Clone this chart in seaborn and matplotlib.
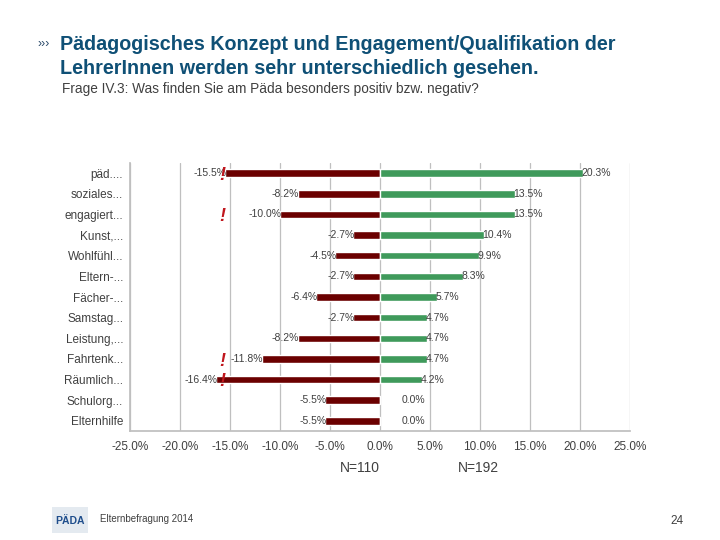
import matplotlib
matplotlib.use("Agg")
import matplotlib.pyplot as plt
import seaborn as sns
import pandas as pd
from matplotlib.patches import Rectangle

categories = ["päd....", "soziales...", "engagiert...", "Kunst,...", "Wohlfühl...",
              "Eltern-...", "Fächer-...", "Samstag...", "Leistung,...", "Fahrtenk...",
              "Räumlich...", "Schulorg...", "Elternhilfe"]
negative = [-15.5, -8.2, -10.0, -2.7, -4.5, -2.7, -6.4, -2.7, -8.2, -11.8, -16.4, -5.5, -5.5]
positive = [20.3, 13.5, 13.5, 10.4, 9.9, 8.3, 5.7, 4.7, 4.7, 4.7, 4.2, 0.0, 0.0]
flagged = ["päd....", "engagiert...", "Fahrtenk...", "Räumlich..."]
xticks = [-25, -20, -15, -10, -5, 0, 5, 10, 15, 20, 25]
n_labels = ["N=110", "N=192"]

sns.set_theme(style="white")
plt.rcParams['font.family'] = ['Liberation Sans', 'DejaVu Sans']

df = pd.DataFrame({"cat": categories, "neg": negative, "pos": positive})

fig = plt.figure(figsize=(7.2, 5.4), dpi=100)
ax = fig.add_axes([130/720, 1-431.3/540, 500/720, 268.6/540])

RED = "#6B0000"
GREEN = "#3F9A5B"
sns.barplot(data=df, x="neg", y="cat", order=categories, color=RED, width=0.37,
            saturation=1, orient="h", ax=ax, zorder=3)
sns.barplot(data=df, x="pos", y="cat", order=categories, color=GREEN, width=0.37,
            saturation=1, orient="h", ax=ax, zorder=3)

ax.set_xlim(-25, 25)
ax.set_ylim(12.5, -0.5)
ax.set_xticks(xticks)
ax.set_xticklabels([f"{t:.1f}%" for t in xticks], fontsize=8.5, color="#404040")
ax.tick_params(axis="x", length=0, pad=7)
ax.tick_params(axis="y", length=0, pad=5)
ax.set_yticklabels(categories, fontsize=8.5, color="#404040")
ax.set_xlabel("")
ax.set_ylabel("")
ax.grid(axis="x", color="#BFBFBF", linewidth=0.9, zorder=0)
ax.set_axisbelow(True)
for s in ["top", "right"]:
    ax.spines[s].set_visible(False)
ax.spines["left"].set_color("#BFBFBF")
ax.spines["bottom"].set_color("#BFBFBF")

for i, (n, p) in enumerate(zip(negative, positive)):
    ax.annotate(f"{n:.1f}%", (n, i), xytext=(1, 0), textcoords="offset points",
                ha="right", va="center", fontsize=7.5, color="#404040", zorder=4)
    ax.annotate(f"{p:.1f}%", (max(p, 2.3), i), xytext=(-1, 0), textcoords="offset points",
                ha="left", va="center", fontsize=7.5, color="#404040", zorder=4)
    if categories[i] in flagged:
        ax.text(-15.8, i + 0.1, "!", color="#C0161D", fontsize=13, fontweight="bold",
                fontstyle="italic", ha="center", va="center", zorder=5)

fig.text(360/720, 1-468/540, n_labels[0], fontsize=10, color="#404040", ha="center", va="center")
fig.text(478/720, 1-468/540, n_labels[1], fontsize=10, color="#404040", ha="center", va="center")

TITLE = "#0F5076"
fig.text(38/720, 1-44/540, "›››", fontsize=9, color="#2A4A6A", ha="left", va="center")
fig.text(60/720, 1-44/540, "Pädagogisches Konzept und Engagement/Qualifikation der",
         fontsize=14.2, fontweight="bold", color=TITLE, ha="left", va="center")
fig.text(60/720, 1-69/540, "LehrerInnen werden sehr unterschiedlich gesehen.",
         fontsize=14.2, fontweight="bold", color=TITLE, ha="left", va="center")
fig.text(62/720, 1-89/540, "Frage IV.3: Was finden Sie am Päda besonders positiv bzw. negativ?",
         fontsize=9.8, color="#404040", ha="left", va="center")

# footer
fig.patches.append(Rectangle((52/720, 1-533/540), 36/720, 26/540, transform=fig.transFigure,
                             facecolor="#E4EAF0", edgecolor="none"))
fig.text(70/720, 1-521/540, "PÄDA", fontsize=7.5, fontweight="bold", color="#1F4E8C",
         ha="center", va="center")
fig.text(100/720, 1-519/540, "Elternbefragung 2014", fontsize=7, color="#404040",
         ha="left", va="center")
fig.text(684/720, 1-521/540, "24", fontsize=8.5, color="#404040", ha="right", va="center")

fig.savefig("out.png", dpi=100, facecolor="white")
